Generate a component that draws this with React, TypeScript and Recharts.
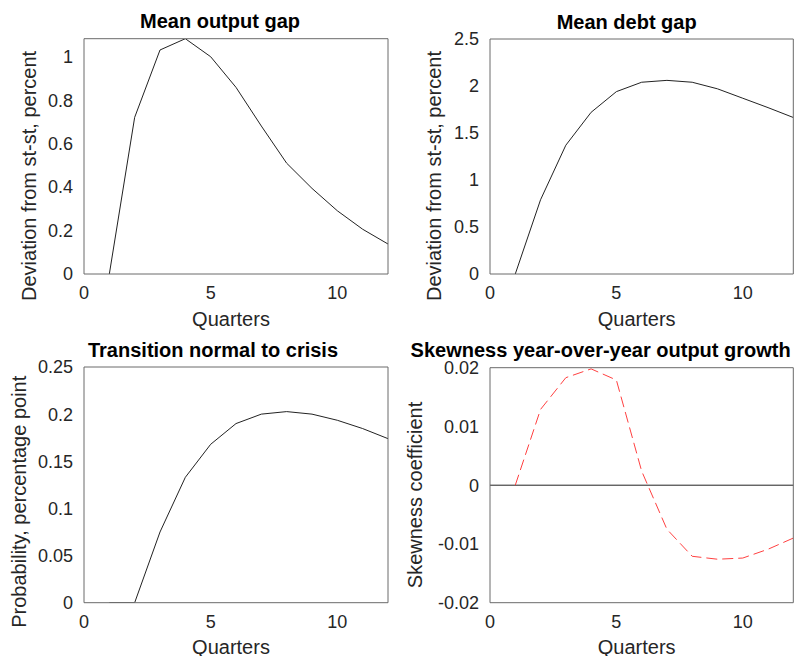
import React from 'react';
import { LineChart, Line, XAxis, YAxis, Label, ReferenceLine } from 'recharts';

const quarters = [1, 2, 3, 4, 5, 6, 7, 8, 9, 10, 11, 12];
const outputGap = [0, 0.721, 1.031, 1.083, 1.0, 0.859, 0.681, 0.51, 0.394, 0.291, 0.206, 0.138];
const debtGap = [0, 0.79, 1.37, 1.72, 1.94, 2.04, 2.06, 2.04, 1.97, 1.87, 1.77, 1.665];
const crisisProb = [0, 0, 0.075, 0.133, 0.168, 0.19, 0.2, 0.2027, 0.2, 0.1935, 0.1847, 0.174];
const skewness = [0, 0.0129, 0.0183, 0.0198, 0.0179, 0.0024, -0.0075, -0.0121, -0.0126, -0.0124, -0.0109, -0.009];

const xTicks = [0, 5, 10];
const outputTicks = [0, 0.2, 0.4, 0.6, 0.8, 1];
const debtTicks = [0, 0.5, 1, 1.5, 2, 2.5];
const probTicks = [0, 0.05, 0.1, 0.15, 0.2, 0.25];
const skewTicks = [-0.02, -0.01, 0, 0.01, 0.02];

const FONT = '"Liberation Sans", Arial, sans-serif';
const AXIS = '#6a6a6a';
const TEXT = '#262626';

type PanelProps = {
  left: number;
  top: number;
  width: number;
  height: number;
  margin: { top: number; right: number };
  yAxisWidth: number;
  xAxisHeight: number;
  values: number[];
  yDomain: [number, number];
  yTicks: number[];
  title: string;
  yLabel: string;
  titleDx: number;
  yLabelGap: number;
  yLabelDy: number;
  color?: string;
  dash?: string;
  zeroLine?: boolean;
};

function Panel(p: PanelProps) {
  const data = quarters.map((q, i) => ({ q, v: p.values[i] }));
  // mirrored copies of the axes draw the box and the inward ticks
  const xMirror = { type: 'number' as const, domain: [0, 12], ticks: xTicks, interval: 0, allowDataOverflow: true, mirror: true, tick: false, tickSize: 3, stroke: AXIS };
  const yMirror = { type: 'number' as const, domain: p.yDomain, ticks: p.yTicks, interval: 0, allowDataOverflow: true, mirror: true, tick: false, tickSize: 3, stroke: AXIS };
  return (
    <div style={{ position: 'absolute', left: p.left, top: p.top }}>
      <LineChart
        width={p.width}
        height={p.height}
        data={data}
        margin={{ top: p.margin.top, right: p.margin.right, bottom: 0, left: 0 }}
      >
        <XAxis
          dataKey="q"
          type="number"
          domain={[0, 12]}
          ticks={xTicks}
          interval={0}
          allowDataOverflow
          height={p.xAxisHeight}
          stroke={AXIS}
          tickLine={false}
          tickSize={0}
          tickMargin={12.5}
          tick={{ fill: TEXT, fontSize: 18, fontFamily: FONT }}
        >
          <Label
            content={({ viewBox }: any) => (
              <text
                x={viewBox.x + viewBox.width / 2 - 5}
                y={viewBox.y + 51.5}
                textAnchor="middle"
                fill={TEXT}
                fontSize={20}
                fontFamily={FONT}
              >
                Quarters
              </text>
            )}
          />
        </XAxis>
        <XAxis xAxisId="bottomTicks" orientation="bottom" axisLine={false} {...xMirror} />
        <XAxis xAxisId="top" orientation="top" {...xMirror}>
          <Label
            content={({ viewBox }: any) => (
              <text
                x={viewBox.x + viewBox.width / 2 + p.titleDx}
                y={viewBox.y - 10.5}
                textAnchor="middle"
                fill="#000"
                fontSize={20}
                fontWeight="bold"
                fontFamily={FONT}
              >
                {p.title}
              </text>
            )}
          />
        </XAxis>
        <YAxis
          type="number"
          domain={p.yDomain}
          ticks={p.yTicks}
          interval={0}
          allowDataOverflow
          width={p.yAxisWidth}
          stroke={AXIS}
          tickLine={false}
          tickSize={0}
          tickMargin={11}
          tick={{ fill: TEXT, fontSize: 18, fontFamily: FONT }}
        >
          <Label
            content={({ viewBox }: any) => {
              const x = viewBox.x + viewBox.width - p.yLabelGap;
              const y = viewBox.y + viewBox.height / 2 + p.yLabelDy;
              return (
                <text
                  x={x}
                  y={y}
                  transform={`rotate(-90, ${x}, ${y})`}
                  textAnchor="middle"
                  fill={TEXT}
                  fontSize={20}
                  fontFamily={FONT}
                >
                  {p.yLabel}
                </text>
              );
            }}
          />
        </YAxis>
        <YAxis yAxisId="leftTicks" orientation="left" axisLine={false} {...yMirror} />
        <YAxis yAxisId="right" orientation="right" {...yMirror} />
        {p.zeroLine ? <ReferenceLine y={0} stroke="#222" strokeWidth={1} /> : null}
        <Line
          dataKey="v"
          type="linear"
          stroke={p.color ?? '#222'}
          strokeWidth={1}
          strokeDasharray={p.dash}
          dot={false}
          isAnimationActive={false}
        />
      </LineChart>
    </div>
  );
}

export default function App() {
  return (
    <div style={{ position: 'absolute', left: 0, top: 0, width: 796, height: 656, background: '#fff' }}>
      <Panel
        left={0}
        top={0}
        width={400}
        height={330}
        margin={{ top: 38.7, right: 12 }}
        yAxisWidth={84}
        xAxisHeight={56}
        values={outputGap}
        yDomain={[0, 1.083]}
        yTicks={outputTicks}
        title="Mean output gap"
        yLabel="Deviation from st-st, percent"
        titleDx={-16}
        yLabelGap={48}
        yLabelDy={19.6}
      />
      <Panel
        left={400}
        top={0}
        width={396}
        height={330}
        margin={{ top: 39, right: 2.7 }}
        yAxisWidth={90}
        xAxisHeight={56}
        values={debtGap}
        yDomain={[0, 2.5]}
        yTicks={debtTicks}
        title="Mean debt gap"
        yLabel="Deviation from st-st, percent"
        titleDx={-15}
        yLabelGap={49}
        yLabelDy={19.5}
      />
      <Panel
        left={0}
        top={330}
        width={400}
        height={326}
        margin={{ top: 37, right: 12 }}
        yAxisWidth={84}
        xAxisHeight={53.3}
        values={crisisProb}
        yDomain={[0, 0.25]}
        yTicks={probTicks}
        title="Transition normal to crisis"
        yLabel="Probability, percentage point"
        titleDx={-23}
        yLabelGap={57.7}
        yLabelDy={16.9}
      />
      <Panel
        left={400}
        top={330}
        width={396}
        height={326}
        margin={{ top: 37.7, right: 2.7 }}
        yAxisWidth={90}
        xAxisHeight={53.3}
        values={skewness}
        yDomain={[-0.02, 0.02]}
        yTicks={skewTicks}
        title="Skewness year-over-year output growth"
        yLabel="Skewness coefficient"
        titleDx={-41}
        yLabelGap={67.7}
        yLabelDy={9.8}
        color="#ff4040"
        dash="11 5"
        zeroLine
      />
    </div>
  );
}
